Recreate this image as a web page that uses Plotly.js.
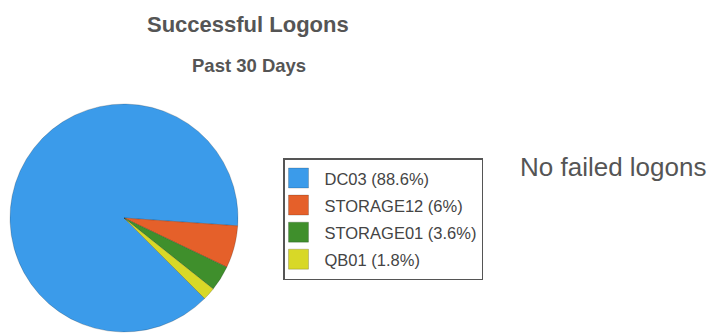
<!DOCTYPE html>
<html>
<head>
<meta charset="utf-8">
<script src="https://cdn.plot.ly/plotly-3.0.1.min.js"></script>
<style>
  html, body { margin: 0; padding: 0; background: #fff; }
  #chart { width: 709px; height: 333px; }
</style>
</head>
<body>
<div id="chart"></div>
<script>
// logon share per host, past 30 days
const hosts = ["DC03", "STORAGE12", "STORAGE01", "QB01"];
const shares = [88.6, 6, 3.6, 1.8];
const sliceColors = ["#3b9bea", "#e5602a", "#3f8f2c", "#d8d827"];

const TITLE = "Successful Logons";
const SUBTITLE = "Past 30 Days";
const SIDE_NOTE = "No failed logons";

const FONT = "'Liberation Sans', Arial, sans-serif";
const TEXT_COLOR = "#555555";

const W = 709, H = 333;
const px = (x) => x / W;
const py = (y) => 1 - y / H;

// legend font is sized for row spacing; the label text itself is smaller
const legendLabels = hosts.map(
  (h, i) => `<span style="font-size:16.5px">${h} (${shares[i]}%)</span>`
);

const traces = [
  {
    type: "pie",
    labels: legendLabels,
    values: shares,
    sort: false,
    direction: "clockwise",
    rotation: 135,
    textinfo: "none",
    hoverinfo: "none",
    marker: {
      colors: sliceColors,
      line: { color: "rgba(0,0,0,0.18)", width: 1 },
    },
    domain: { x: [px(10), px(238)], y: [py(332), py(104)] },
  },
];

const layout = {
  width: W,
  height: H,
  margin: { t: 0, r: 0, b: 0, l: 0 },
  paper_bgcolor: "#ffffff",
  font: { family: FONT, color: "#444444" },
  showlegend: true,
  legend: {
    x: px(283), y: py(158),
    xanchor: "left", yanchor: "top",
    bordercolor: "#555555",
    borderwidth: 1.5,
    bgcolor: "#ffffff",
    font: { family: FONT, size: 18.5, color: "#444444" },
  },
  annotations: [
    {
      text: `<b>${TITLE}</b>`,
      x: px(248), y: py(25), xref: "paper", yref: "paper",
      xanchor: "center", yanchor: "middle", showarrow: false,
      font: { family: FONT, size: 22, color: TEXT_COLOR },
    },
    {
      text: `<b>${SUBTITLE}</b>`,
      x: px(249), y: py(66), xref: "paper", yref: "paper",
      xanchor: "center", yanchor: "middle", showarrow: false,
      font: { family: FONT, size: 18.5, color: TEXT_COLOR },
    },
    {
      text: SIDE_NOTE,
      x: px(518), y: py(167), xref: "paper", yref: "paper",
      xanchor: "left", yanchor: "middle", showarrow: false,
      font: { family: FONT, size: 26, color: TEXT_COLOR },
    },
  ],
};

Plotly.newPlot("chart", traces, layout, { displayModeBar: false, staticPlot: true })
  .then((gd) => {
    // bigger legend swatches, like the original (keep plotly's own transform)
    gd.querySelectorAll(".legendpie").forEach((p) => {
      p.setAttribute("d", "M4,10H-16V-10H4Z");
    });
  });
</script>
</body>
</html>
